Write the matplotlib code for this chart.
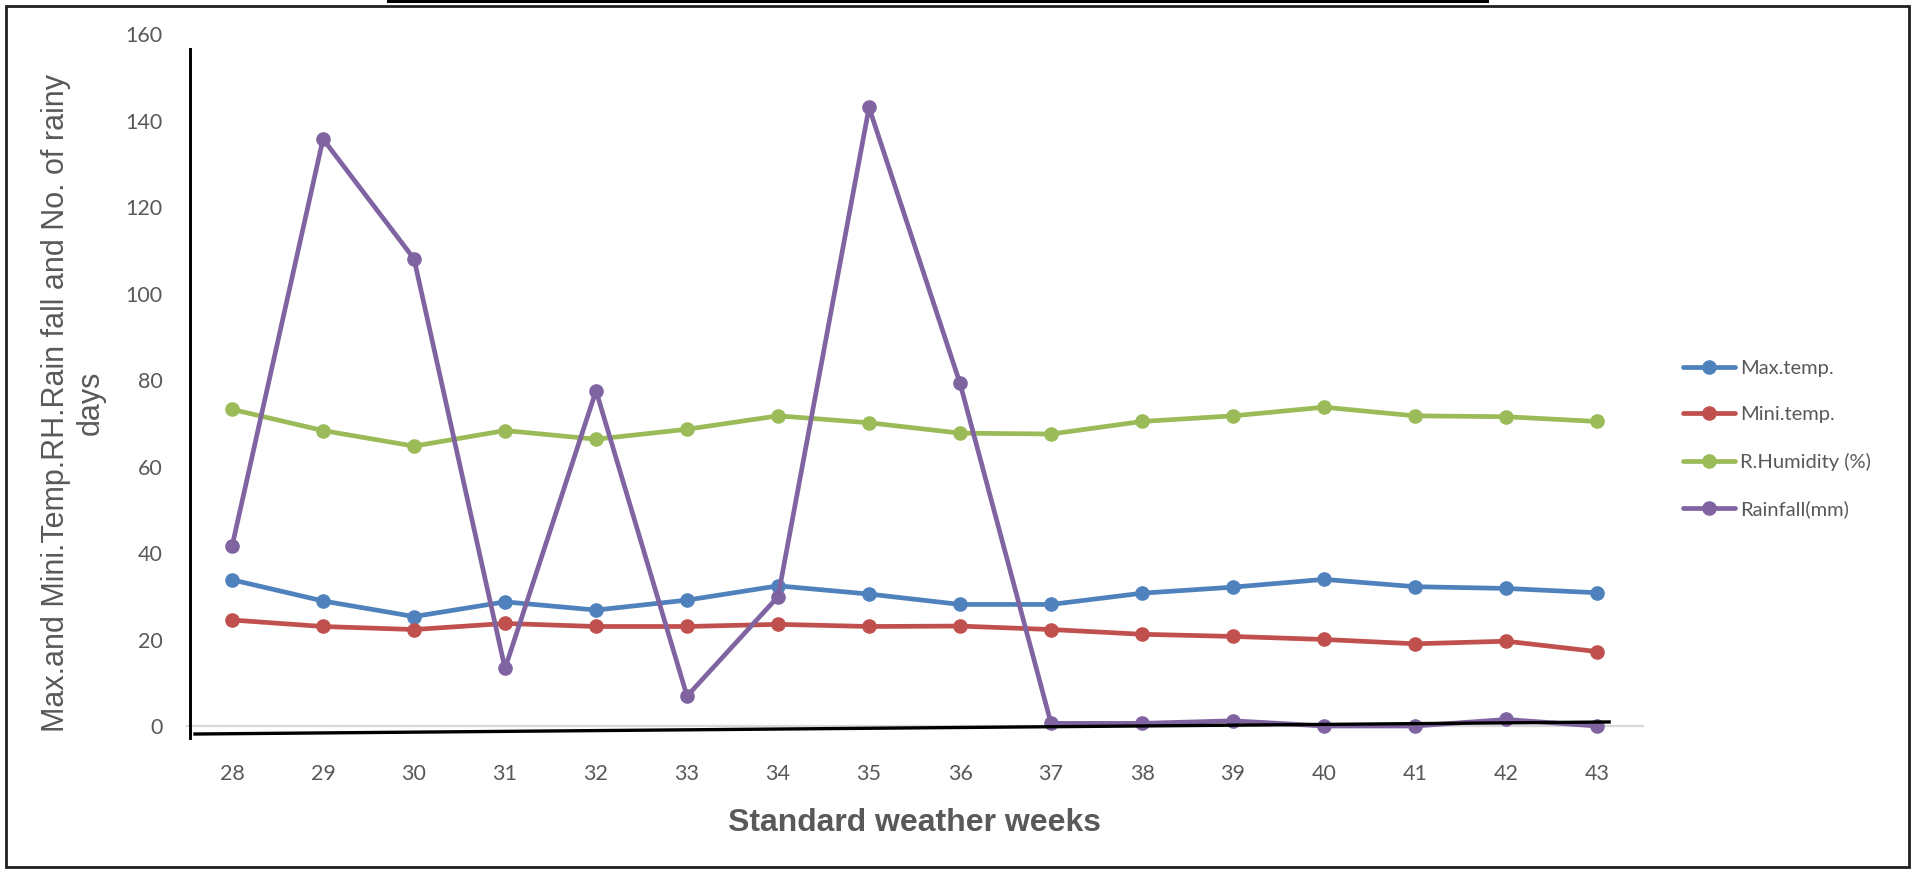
import matplotlib
matplotlib.use("Agg")
import matplotlib.pyplot as plt
from matplotlib.lines import Line2D
from matplotlib.patches import Rectangle

# Standard meteorological weeks
weeks = [28, 29, 30, 31, 32, 33, 34, 35, 36, 37, 38, 39, 40, 41, 42, 43]

max_temp = [33.8, 28.9, 25.3, 28.7, 26.8, 29.1, 32.4, 30.5, 28.1, 28.1,
            30.7, 32.1, 33.9, 32.2, 31.8, 30.8]
min_temp = [24.5, 23.0, 22.3, 23.7, 23.0, 23.0, 23.5, 23.0, 23.1, 22.3,
            21.2, 20.7, 20.0, 19.0, 19.6, 17.2]
humidity = [73.2, 68.3, 64.7, 68.3, 66.3, 68.6, 71.7, 70.1, 67.7, 67.5,
            70.4, 71.7, 73.7, 71.7, 71.5, 70.4]
rainfall = [41.5, 135.7, 108.0, 13.3, 77.5, 6.9, 29.9, 143.0, 79.2, 0.6,
            0.6, 1.2, 0.0, 0.0, 1.5, 0.0]

series_names = ["Max.temp.", "Mini.temp.", "R.Humidity (%)", "Rainfall(mm)"]
series_colors = ["#4F81BD", "#C0504D", "#9BBB59", "#8064A2"]

y_ticks = [0, 20, 40, 60, 80, 100, 120, 140, 160]
x_title = "Standard weather weeks"
y_title = "Max.and Mini.Temp.RH.Rain fall and No. of rainy\ndays"

W, H = 1914, 870
fig = plt.figure(figsize=(W / 100 + 0.001, H / 100 + 0.001), dpi=100)
fig.patch.set_facecolor("white")

ax_l, ax_r, ax_t, ax_b = 186.5, 1642.5, 34, 726
ax = fig.add_axes([ax_l / W, 1 - ax_b / H, (ax_r - ax_l) / W, (ax_b - ax_t) / H])

for vals, name, col in zip([max_temp, min_temp, humidity, rainfall],
                           series_names, series_colors):
    ax.plot(weeks, vals, color=col, lw=3.4, marker="o", markersize=9.5,
            label=name, solid_capstyle="round", solid_joinstyle="round",
            clip_on=False, zorder=3)

ax.set_xlim(27.5, 43.5)
ax.set_ylim(0, 160)
ax.set_xticks(weeks)
ax.set_xticklabels([str(w) for w in weeks])
ax.set_yticks(y_ticks)
ax.set_yticklabels([str(v) for v in y_ticks])

for lab in ax.get_xticklabels() + ax.get_yticklabels():
    lab.set_fontfamily("Lato")
    lab.set_fontsize(15.5)
    lab.set_color("#595959")
ax.tick_params(axis="both", length=0)
ax.tick_params(axis="y", pad=17)
ax.tick_params(axis="x", pad=27.5)

for side in ["left", "top", "right"]:
    ax.spines[side].set_visible(False)
ax.spines["bottom"].set_color("#D9D9D9")
ax.spines["bottom"].set_linewidth(1.6)
ax.set_facecolor("none")

# Black axis strokes drawn over the plot
ax.add_line(Line2D([0.0024, 0.0024], [0.978, -0.0173], transform=ax.transAxes,
                   color="black", lw=2.1, clip_on=False, zorder=5))
ax.add_line(Line2D([0.0058, 0.977], [-0.0116, 0.0058], transform=ax.transAxes,
                   color="black", lw=2.4, clip_on=False, zorder=5))

# Axis titles
fig.text(73.5 / W, 1 - 403 / H, y_title, rotation=90, ha="center", va="center",
         multialignment="center", fontsize=22, family="Liberation Sans",
         color="#595959")
fig.text(914 / W, 1 - 823 / H, x_title, ha="center", va="center",
         fontsize=23, fontweight="bold", family="Liberation Sans",
         color="#595959")

# Legend
leg = fig.legend(loc="upper left", bbox_to_anchor=(1683 / W, 1 - 360 / H),
                 bbox_transform=fig.transFigure, frameon=False,
                 borderpad=0, borderaxespad=0, handlelength=2.6,
                 handletextpad=0.25, labelspacing=1.45,
                 prop={"family": "Lato", "size": 14.5})
for txt in leg.get_texts():
    txt.set_color("#595959")

# Outer frame and top rule
fig.add_artist(Rectangle((6 / W, 3 / H), (1909 - 6) / W, (864 - 3) / H,
                         transform=fig.transFigure, fill=False,
                         edgecolor="#1f1f1f", lw=2.0))
fig.add_artist(Line2D([388 / W, 1487 / W], [1 - 1.3 / H, 1 - 1.3 / H],
                      transform=fig.transFigure, color="black", lw=2.2))

fig.savefig("out.png", dpi=100, facecolor="white")
